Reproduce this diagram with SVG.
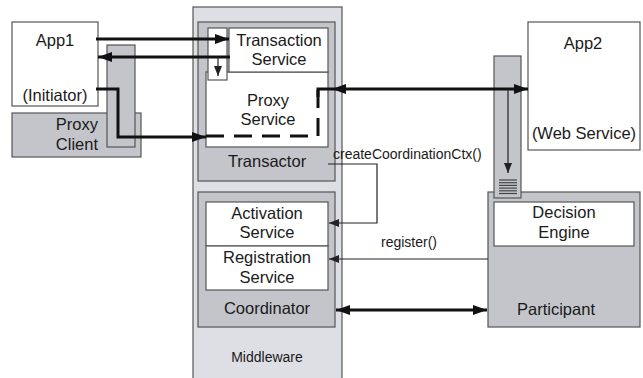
<svg xmlns="http://www.w3.org/2000/svg" width="643" height="378" viewBox="0 0 643 378">
<style>
text{font-family:"Liberation Sans",Arial,sans-serif;fill:#1a1a1a}
.n{font-size:16.5px;text-anchor:middle}
.s{font-size:14px}
.w{fill:#fff;stroke:#555;stroke-width:1.2}
.g{fill:#c3c5cb;stroke:#555;stroke-width:1.2}
.l{fill:#dedfe4;stroke:#555;stroke-width:1.2}
.thick{fill:none;stroke:#111;stroke-width:3}
.thin{fill:none;stroke:#222;stroke-width:1.2}
.gl{stroke:#444;stroke-width:1.2}
</style>
<defs>
<marker id="ah" viewBox="0 0 14 10" refX="14" refY="5" markerWidth="14" markerHeight="10" markerUnits="userSpaceOnUse" orient="auto-start-reverse"><path d="M0,0L14,5L0,10z" fill="#111"/></marker>
<marker id="ahs" viewBox="0 0 10 8" refX="10" refY="4" markerWidth="10" markerHeight="8" markerUnits="userSpaceOnUse" orient="auto"><path d="M0,0L10,4L0,8z" fill="#222"/></marker>
</defs>
<g id="proxy-client">
<rect class="g" x="12" y="113" width="129" height="44"/>
<text class="n" x="98" y="130" style="text-anchor:end">Proxy</text>
<text class="n" x="98" y="150" style="text-anchor:end">Client</text>
<rect class="g" x="107" y="45" width="28" height="102"/>
</g>
<g id="app1">
<rect class="w" x="12" y="22" width="86" height="84"/>
<text class="n" x="55" y="46">App1</text>
<text class="n" x="55" y="101">(Initiator)</text>
</g>
<g id="middleware">
<rect class="l" x="193" y="7" width="149" height="380"/>
<text class="s" x="267" y="362" text-anchor="middle">Middleware</text>
</g>
<g id="transactor">
<rect class="g" x="198" y="22" width="137" height="159"/>
<text class="n" x="267" y="167">Transactor</text>
</g>
<g id="proxy-service">
<rect class="w" x="206" y="72" width="122" height="75"/>
<text class="n" x="268" y="106">Proxy</text>
<text class="n" x="268" y="125">Service</text>
</g>
<g id="transaction-service">
<rect class="w" x="229" y="28" width="99" height="44"/>
<text class="n" x="279" y="46">Transaction</text>
<text class="n" x="279" y="65">Service</text>
</g>
<g id="interceptor">
<rect class="w" x="208" y="28" width="19" height="52"/>
</g>
<g id="coordinator">
<rect class="g" x="198" y="192" width="137" height="135"/>
<text class="n" x="267" y="314">Coordinator</text>
</g>
<g id="activation-service">
<rect class="w" x="206" y="202" width="122" height="44"/>
<text class="n" x="267" y="219">Activation</text>
<text class="n" x="267" y="238">Service</text>
</g>
<g id="registration-service">
<rect class="w" x="206" y="246" width="122" height="44"/>
<text class="n" x="267" y="263">Registration</text>
<text class="n" x="267" y="283">Service</text>
</g>
<g id="app2">
<rect class="w" x="528" y="22" width="112" height="128"/>
<text class="n" x="583" y="49">App2</text>
<text class="n" x="584" y="139">(Web Service)</text>
</g>
<g id="participant">
<rect class="g" x="488" y="192" width="152" height="135"/>
<text class="n" x="556" y="315">Participant</text>
</g>
<g id="decision-engine">
<rect class="w" x="494" y="202" width="140" height="44"/>
<text class="n" x="564" y="218">Decision</text>
<text class="n" x="564" y="238">Engine</text>
</g>
<g id="app2-proxy">
<rect class="g" x="494" y="56" width="27" height="142"/>
<line class="gl" x1="499" y1="180" x2="517" y2="180"/>
<line class="gl" x1="499" y1="182.7" x2="517" y2="182.7"/>
<line class="gl" x1="499" y1="185.4" x2="517" y2="185.4"/>
<line class="gl" x1="499" y1="188.1" x2="517" y2="188.1"/>
<line class="gl" x1="499" y1="190.8" x2="517" y2="190.8"/>
<line class="gl" x1="499" y1="193.5" x2="517" y2="193.5"/>
</g>
<g id="connectors">
<line class="thick" x1="96" y1="39" x2="229" y2="39" marker-end="url(#ah)"/>
<line class="thick" x1="230" y1="57" x2="98" y2="57" marker-end="url(#ah)"/>
<line class="thin" x1="218" y1="57" x2="218" y2="76" marker-end="url(#ahs)"/>
<polyline class="thick" points="96,89 118,89 118,137 206,137" marker-end="url(#ah)"/>
<polyline class="thick" points="206,136 318,136 318,89" stroke-dasharray="18 10"/>
<polyline class="thick" points="318,97 318,89 332,89"/>
<line class="thick" x1="332" y1="89" x2="528" y2="89" marker-start="url(#ah)" marker-end="url(#ah)"/>
<line class="thin" x1="508" y1="89" x2="508" y2="173" marker-end="url(#ahs)"/>
<polyline class="thin" points="328,164 377,164 377,223 329,223" marker-end="url(#ahs)"/>
<text class="s" x="333" y="159">createCoordinationCtx()</text>
<line class="thin" x1="488" y1="259" x2="329" y2="259" marker-end="url(#ahs)"/>
<text class="s" x="381" y="247">register()</text>
<line class="thick" x1="336" y1="310" x2="487" y2="310" marker-start="url(#ah)" marker-end="url(#ah)"/>
</g>
</svg>
